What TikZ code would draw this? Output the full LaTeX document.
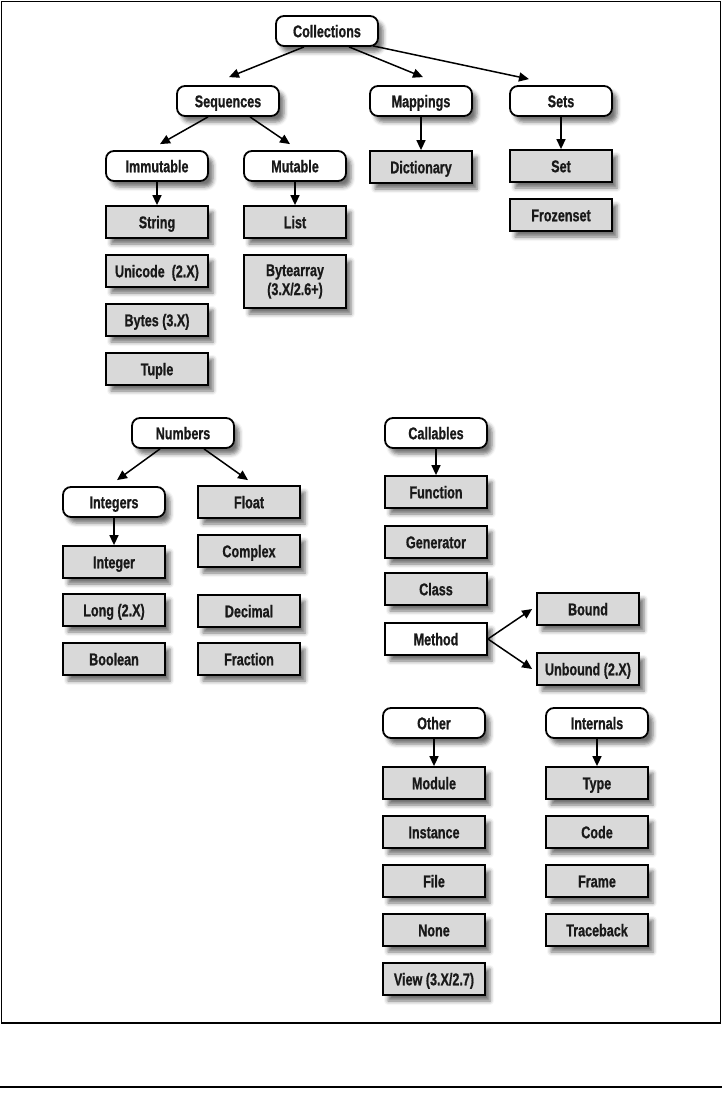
\documentclass[tikz,border=0pt]{standalone}
\usepackage{fontspec}
\setmainfont{Liberation Sans}[FakeStretch=0.74,FakeBold=0.8]
\usetikzlibrary{arrows.meta,shadows.blur}
\tikzset{
  base/.style={draw=black, line width=1.8pt, minimum width=102pt, inner sep=0pt,
    font=\fontsize{17}{19}\selectfont\bfseries, text=black!90,
    text height=12.5pt, text depth=0pt,
    blur shadow={shadow xshift=5pt, shadow yshift=-6pt, shadow blur radius=4pt, shadow opacity=55}},
  cat/.style={base, rounded corners=8pt, fill=white, minimum height=30pt},
  leaf/.style={base, fill=gray!30, minimum height=32pt},
  plainbox/.style={base, fill=white, minimum height=32pt},
  arr/.style={line width=1.5pt, -{Triangle[length=10pt,width=9pt]}},
  framestyle/.style={line width=1.2pt}
}
\begin{document}
\begin{tikzpicture}[x=1pt,y=-1pt]
\useasboundingbox (0,0) rectangle (722,1106);
\draw[framestyle] (1.5,1.5) rectangle (720.5,1023);
\draw[framestyle] (0,1087) -- (722,1087);

\node[cat] (col) at (327,31) {Collections};
\node[cat] (seq) at (228,101) {Sequences};
\node[cat] (map) at (421,101) {Mappings};
\node[cat] (sets) at (561,101) {Sets};
\node[cat] (imm) at (157,166) {Immutable};
\node[cat] (mut) at (295,166) {Mutable};
\node[leaf] (dict) at (421,167) {Dictionary};
\node[leaf] (set) at (561,166) {Set};
\node[leaf] (froz) at (561,215) {Frozenset};
\node[leaf] (str) at (157,222) {String};
\node[leaf] (list) at (295,222) {List};
\node[leaf] (uni) at (157,271) {Unicode\ \ (2.X)};
\node[leaf, minimum height=53pt, align=center, text height=, text depth=] (byte) at (295,281.5) {Bytearray\\(3.X/2.6+)};
\node[leaf] (bytes) at (157,320) {Bytes (3.X)};
\node[leaf] (tup) at (157,369) {Tuple};

\node[cat] (num) at (183,433) {Numbers};
\node[cat] (ints) at (114,502) {Integers};
\node[leaf] (flt) at (249,502) {Float};
\node[leaf] (cplx) at (249,551) {Complex};
\node[leaf] (int) at (114,562) {Integer};
\node[leaf] (long) at (114,610) {Long (2.X)};
\node[leaf] (dec) at (249,611) {Decimal};
\node[leaf] (bool) at (114,659) {Boolean};
\node[leaf] (frac) at (249,659) {Fraction};

\node[cat] (call) at (436,433) {Callables};
\node[leaf] (func) at (436,492) {Function};
\node[leaf] (gen) at (436,542) {Generator};
\node[leaf] (cls) at (436,589) {Class};
\node[plainbox] (meth) at (436,639) {Method};
\node[leaf] (bound) at (588,609) {Bound};
\node[leaf] (unb) at (588,669) {Unbound (2.X)};

\node[cat] (oth) at (434,723) {Other};
\node[cat] (intl) at (597,723) {Internals};
\node[leaf] (mod) at (434,783) {Module};
\node[leaf] (inst) at (434,832) {Instance};
\node[leaf] (file) at (434,881) {File};
\node[leaf] (none) at (434,930) {None};
\node[leaf] (view) at (434,979) {View (3.X/2.7)};
\node[leaf] (type) at (597,783) {Type};
\node[leaf] (code) at (597,832) {Code};
\node[leaf] (frame) at (597,881) {Frame};
\node[leaf] (tb) at (597,930) {Traceback};

\draw[arr] ([xshift=-23pt]col.south) -- ([xshift=1pt,yshift=8pt]seq.north);
\draw[arr] ([xshift=22pt]col.south) -- ([xshift=2pt,yshift=8pt]map.north);
\draw[arr] ([xshift=46pt,yshift=1pt]col.south) -- ([xshift=-32pt,yshift=6pt]sets.north);
\draw[arr] ([xshift=-20pt]seq.south) -- ([xshift=3pt,yshift=6pt]imm.north);
\draw[arr] ([xshift=22pt]seq.south) -- ([xshift=-5pt,yshift=6pt]mut.north);
\draw[arr] (map.south) -- (dict.north);
\draw[arr] (sets.south) -- (set.north);
\draw[arr] (imm.south) -- (str.north);
\draw[arr] (mut.south) -- (list.north);
\draw[arr] ([xshift=-23pt]num.south) -- ([xshift=3pt,yshift=6pt]ints.north);
\draw[arr] ([xshift=21pt]num.south) -- ([xshift=-1pt,yshift=5pt]flt.north);
\draw[arr] (ints.south) -- (int.north);
\draw[arr] (call.south) -- (func.north);
\draw[arr] (meth.east) -- ([xshift=-4pt]bound.west);
\draw[arr] (meth.east) -- ([xshift=-4pt]unb.west);
\draw[arr] (oth.south) -- (mod.north);
\draw[arr] (intl.south) -- (type.north);
\end{tikzpicture}
\end{document}
